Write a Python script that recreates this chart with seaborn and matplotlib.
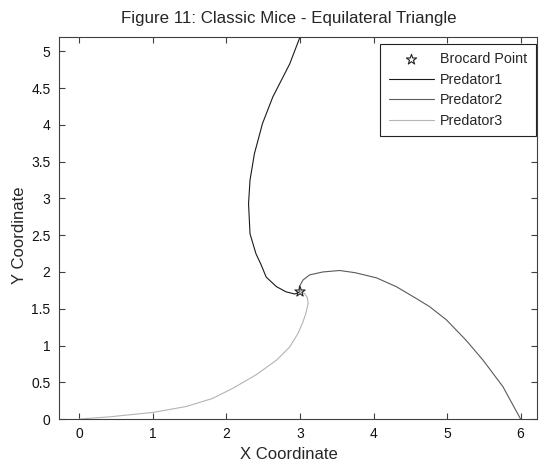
import matplotlib
matplotlib.use("Agg")
import matplotlib.pyplot as plt
import seaborn as sns
import pandas as pd

# Brocard point of the equilateral triangle with vertices (0,0), (6,0), (3, 5.196)
brocard_x = [3.0]
brocard_y = [1.732]

# Pursuit path of each predator
pred1_x = [3.00, 2.86, 2.63, 2.49, 2.38, 2.32, 2.30, 2.32, 2.40, 2.47, 2.54, 2.68, 2.81, 2.93, 3.00]
pred1_y = [5.196, 4.83, 4.38, 4.02, 3.61, 3.25, 2.93, 2.52, 2.25, 2.10, 1.93, 1.80, 1.73, 1.70, 1.732]

pred2_x = [6.00, 5.76, 5.49, 5.26, 4.99, 4.76, 4.58, 4.31, 4.04, 3.75, 3.54, 3.31, 3.13, 3.04, 2.99, 3.00]
pred2_y = [0.00, 0.44, 0.80, 1.07, 1.35, 1.53, 1.64, 1.80, 1.92, 1.99, 2.02, 2.00, 1.96, 1.89, 1.80, 1.732]

pred3_x = [0.00, 0.41, 1.00, 1.45, 1.81, 2.09, 2.40, 2.68, 2.86, 2.97, 3.04, 3.08, 3.11, 3.10, 3.06, 3.00]
pred3_y = [0.00, 0.03, 0.09, 0.17, 0.28, 0.42, 0.60, 0.80, 0.98, 1.16, 1.32, 1.44, 1.57, 1.65, 1.71, 1.732]

names = ["Predator1", "Predator2", "Predator3"]
colors = ["#1a1a1a", "#5a5a5a", "#b4b4b4"]

sns.set_style("ticks")
plt.rcParams["font.family"] = ["Liberation Sans", "DejaVu Sans"]

fig = plt.figure(figsize=(5.4, 4.62), dpi=100)
ax = fig.add_axes([0.109, 0.093, 0.885, 0.827])

sns.scatterplot(x=brocard_x, y=brocard_y, marker="*", s=60, facecolor="none",
                edgecolor="#222222", linewidth=0.8, label="Brocard Point", ax=ax, zorder=5)

paths = [(pred1_x, pred1_y), (pred2_x, pred2_y), (pred3_x, pred3_y)]
for (px, py), name, col in zip(paths, names, colors):
    df = pd.DataFrame({"x": px, "y": py})
    sns.lineplot(data=df, x="x", y="y", sort=False, estimator=None, color=col,
                 linewidth=0.8, label=name, ax=ax)

ax.set_xlim(-0.28, 6.22)
ax.set_ylim(0, 5.196)
ax.set_xticks(range(0, 7))
ax.set_yticks([0, 0.5, 1, 1.5, 2, 2.5, 3, 3.5, 4, 4.5, 5])
ax.set_yticklabels(["0", "0.5", "1", "1.5", "2", "2.5", "3", "3.5", "4", "4.5", "5"])

for s in ax.spines.values():
    s.set_visible(True)
    s.set_color("#404040")
    s.set_linewidth(0.8)
ax.tick_params(direction="in", top=True, right=True, length=4, width=0.8,
               labelsize=10, colors="#404040", labelcolor="#111111")
ax.tick_params(axis="y", pad=6)
ax.tick_params(axis="x", pad=6)

ax.set_xlabel("X Coordinate", fontsize=12, labelpad=3)
ax.xaxis.set_label_coords(0.481, -0.072)
ax.set_ylabel("Y Coordinate", fontsize=12)
ax.yaxis.set_label_coords(-0.067, 0.48)
ax.set_title("Figure 11: Classic Mice - Equilateral Triangle", fontsize=12.2, pad=10, x=0.481)

leg = ax.legend(loc="upper right", bbox_to_anchor=(0.998, 0.982), fontsize=10.3,
                frameon=True, fancybox=False, borderaxespad=0.0, handlelength=3.2,
                handletextpad=0.4, labelspacing=0.45, borderpad=0.6)
leg.get_frame().set_edgecolor("#222222")
leg.get_frame().set_linewidth(0.8)
leg.get_frame().set_alpha(1)

fig.savefig("out.png", dpi=100)
